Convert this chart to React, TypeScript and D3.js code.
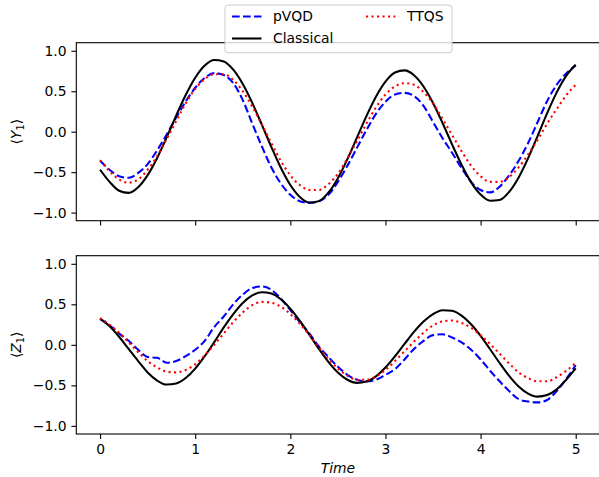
import React, { useEffect, useRef } from "react";
import * as d3 from "d3";

const width = 599;
const height = 477;
const margin = { left: 76.3, right: 599.5 };
const panels = [
  { top: 42.7, bottom: 220.7, label: "Y" },
  { top: 255.7, bottom: 434, label: "Z" }
];

const times = [
  0, 0.1, 0.2, 0.3, 0.4, 0.5, 0.6, 0.7, 0.8, 0.9, 1, 1.1, 1.2, 1.3, 1.4, 1.5, 1.6, 1.7, 1.8, 1.9, 2,
  2.1, 2.2, 2.3, 2.4, 2.5, 2.6, 2.7, 2.8, 2.9, 3, 3.1, 3.2, 3.3, 3.4, 3.5, 3.6, 3.7, 3.8, 3.9, 4,
  4.1, 4.2, 4.3, 4.4, 4.5, 4.6, 4.7, 4.8, 4.9, 5
];

// <Y1>
const y1Classical = [
  -0.47, -0.62, -0.73, -0.756, -0.687, -0.537, -0.324, -0.07, 0.199, 0.454, 0.667, 0.817, 0.886,
  0.869, 0.767, 0.59, 0.356, 0.088, -0.188, -0.445, -0.659, -0.807, -0.876, -0.858, -0.754, -0.574,
  -0.339, -0.074, 0.193, 0.433, 0.619, 0.731, 0.758, 0.698, 0.559, 0.355, 0.108, -0.156, -0.408,
  -0.623, -0.777, -0.853, -0.844, -0.744, -0.565, -0.326, -0.051, 0.229, 0.486, 0.691, 0.828
];
const y1Pvqd = [
  -0.36, -0.47, -0.55, -0.57, -0.51, -0.4, -0.23, -0.035, 0.175, 0.374, 0.543, 0.665, 0.724, 0.7,
  0.6, 0.39, 0.1, -0.18, -0.44, -0.64, -0.78, -0.86, -0.88, -0.86, -0.78, -0.62, -0.42, -0.2, 0.02,
  0.22, 0.37, 0.46, 0.48, 0.44, 0.32, 0.12, -0.08, -0.26, -0.45, -0.62, -0.72, -0.75, -0.68, -0.54,
  -0.36, -0.14, 0.12, 0.38, 0.58, 0.72, 0.82
];
const y1Ttqs = [
  -0.35, -0.49, -0.59, -0.63, -0.59, -0.47, -0.3, -0.09, 0.13, 0.35, 0.53, 0.65, 0.71, 0.71, 0.64,
  0.5, 0.31, 0.09, -0.14, -0.36, -0.54, -0.66, -0.72, -0.72, -0.65, -0.52, -0.33, -0.12, 0.1, 0.3,
  0.46, 0.56, 0.6, 0.58, 0.49, 0.35, 0.16, -0.04, -0.24, -0.42, -0.55, -0.62, -0.62, -0.56, -0.44,
  -0.28, -0.1, 0.1, 0.28, 0.45, 0.58
];

// <Z1>
const z1Classical = [
  0.32, 0.23, 0.1, -0.05, -0.2, -0.34, -0.44, -0.49, -0.476, -0.409, -0.293, -0.14, 0.034, 0.215,
  0.38, 0.517, 0.61, 0.649, 0.633, 0.563, 0.447, 0.296, 0.125, -0.049, -0.21, -0.342, -0.431,
  -0.469, -0.453, -0.388, -0.28, -0.141, 0.011, 0.16, 0.287, 0.379, 0.426, 0.42, 0.361, 0.255,
  0.112, -0.054, -0.224, -0.382, -0.513, -0.601, -0.639, -0.62, -0.55, -0.43, -0.29
];
const z1Pvqd = [
  0.32, 0.24, 0.14, 0.05, -0.06, -0.15, -0.16, -0.22, -0.2, -0.14, -0.06, 0.05, 0.22, 0.35, 0.5,
  0.62, 0.7, 0.72, 0.68, 0.57, 0.43, 0.28, 0.14, -0.02, -0.15, -0.27, -0.37, -0.43, -0.45, -0.43,
  -0.37, -0.3, -0.18, -0.05, 0.05, 0.12, 0.13, 0.09, 0.03, -0.06, -0.18, -0.32, -0.45, -0.57,
  -0.67, -0.7, -0.71, -0.68, -0.57, -0.42, -0.25
];
const z1Ttqs = [
  0.33, 0.25, 0.15, 0.03, -0.09, -0.2, -0.28, -0.33, -0.34, -0.31, -0.24, -0.13, 0, 0.14, 0.28,
  0.4, 0.49, 0.53, 0.52, 0.47, 0.38, 0.26, 0.12, -0.03, -0.17, -0.29, -0.38, -0.43, -0.43, -0.39,
  -0.31, -0.2, -0.08, 0.04, 0.15, 0.24, 0.29, 0.3, 0.27, 0.21, 0.12, 0.01, -0.11, -0.23, -0.34,
  -0.41, -0.45, -0.45, -0.4, -0.32, -0.22
];

const xTicks = [0, 1, 2, 3, 4, 5];
const yTicks = [-1, -0.5, 0, 0.5, 1];

const styles = {
  pvqd: { stroke: "#0000ff", dash: "7.7,3.3", label: "pVQD" },
  classical: { stroke: "#000000", dash: null, label: "Classical" },
  ttqs: { stroke: "#ff0000", dash: "2.1,3.4", label: "TTQS" }
};

const font = "DejaVu Sans, sans-serif";
const fs = 13.9;
const lw = 2.08;

const x = d3.scaleLinear().domain([-0.25, 5.25]).range([margin.left, margin.right]);

function Panel({ idx, series }) {
  const p = panels[idx];
  const xRef = useRef(null);
  const yRef = useRef(null);
  const y = d3.scaleLinear().domain([-1.1, 1.1]).range([p.bottom, p.top]);
  const line = d3
    .line()
    .curve(d3.curveMonotoneX)
    .x(d => x(d[0]))
    .y(d => y(d[1]));

  useEffect(() => {
    const xa = d3
      .axisBottom(x)
      .tickValues(xTicks)
      .tickSize(4.9)
      .tickPadding(4.9)
      .tickFormat(idx === 1 ? d3.format("d") : () => "");
    const ya = d3
      .axisLeft(y)
      .tickValues(yTicks)
      .tickSize(4.9)
      .tickPadding(4.9)
      .tickFormat(d3.format(".1f"));
    for (const [ref, ax] of [
      [xRef, xa],
      [yRef, ya]
    ]) {
      const g = d3.select(ref.current).call(ax);
      g.select(".domain").remove();
      g.selectAll("line").attr("stroke", "#000").attr("stroke-width", 1.1);
      g.selectAll("text").attr("font-family", font).attr("font-size", fs).attr("fill", "#000");
    }
  });

  const clipId = "clip" + idx;
  return (
    <g>
      <clipPath id={clipId}>
        <rect x={margin.left} y={p.top} width={margin.right - margin.left} height={p.bottom - p.top} />
      </clipPath>
      <g clipPath={`url(#${clipId})`}>
        {series.map(s => (
          <path
            key={s.key}
            d={line(times.map((t, i) => [t, s.values[i]]))}
            fill="none"
            stroke={styles[s.key].stroke}
            strokeWidth={lw}
            strokeDasharray={styles[s.key].dash || undefined}
          />
        ))}
      </g>
      <rect
        x={margin.left}
        y={p.top}
        width={margin.right - margin.left}
        height={p.bottom - p.top}
        fill="none"
        stroke="#000"
        strokeWidth={1.1}
      />
      <g ref={xRef} transform={`translate(0,${p.bottom})`} />
      <g ref={yRef} transform={`translate(${margin.left},0)`} />
      <text
        transform={`translate(21,${(p.top + p.bottom) / 2}) rotate(-90)`}
        textAnchor="middle"
        fontFamily={font}
        fontSize={fs}
      >
        ⟨<tspan fontStyle="italic">{p.label}</tspan>
        <tspan fontSize={9.7} dy={3}>1</tspan>
        <tspan dy={-3}>⟩</tspan>
      </text>
    </g>
  );
}

function Legend() {
  const items = [
    { key: "pvqd", x: 232, y: 16.5 },
    { key: "classical", x: 232, y: 38.5 },
    { key: "ttqs", x: 366, y: 16.5 }
  ];
  return (
    <g>
      <rect
        x={225}
        y={5}
        width={227}
        height={47.7}
        rx={3}
        fill="#fff"
        fillOpacity={0.8}
        stroke="#cccccc"
        strokeWidth={1}
      />
      {items.map(it => (
        <g key={it.key}>
          <line
            x1={it.x}
            x2={it.x + 29.5}
            y1={it.y}
            y2={it.y}
            stroke={styles[it.key].stroke}
            strokeWidth={lw}
            strokeDasharray={styles[it.key].dash || undefined}
          />
          <text x={it.x + 41} y={it.y} dy="0.35em" fontFamily={font} fontSize={fs}>
            {styles[it.key].label}
          </text>
        </g>
      ))}
    </g>
  );
}

export default function App() {
  useEffect(() => {
    document.body.style.margin = "0";
  }, []);
  return (
    <svg width={width} height={height} style={{ display: "block", background: "#fff" }}>
      <Panel
        idx={0}
        series={[
          { key: "pvqd", values: y1Pvqd },
          { key: "classical", values: y1Classical },
          { key: "ttqs", values: y1Ttqs }
        ]}
      />
      <Panel
        idx={1}
        series={[
          { key: "pvqd", values: z1Pvqd },
          { key: "classical", values: z1Classical },
          { key: "ttqs", values: z1Ttqs }
        ]}
      />
      <text
        x={(margin.left + margin.right) / 2}
        y={473}
        textAnchor="middle"
        fontFamily={font}
        fontSize={fs}
        fontStyle="italic"
      >
        Time
      </text>
      <Legend />
    </svg>
  );
}
